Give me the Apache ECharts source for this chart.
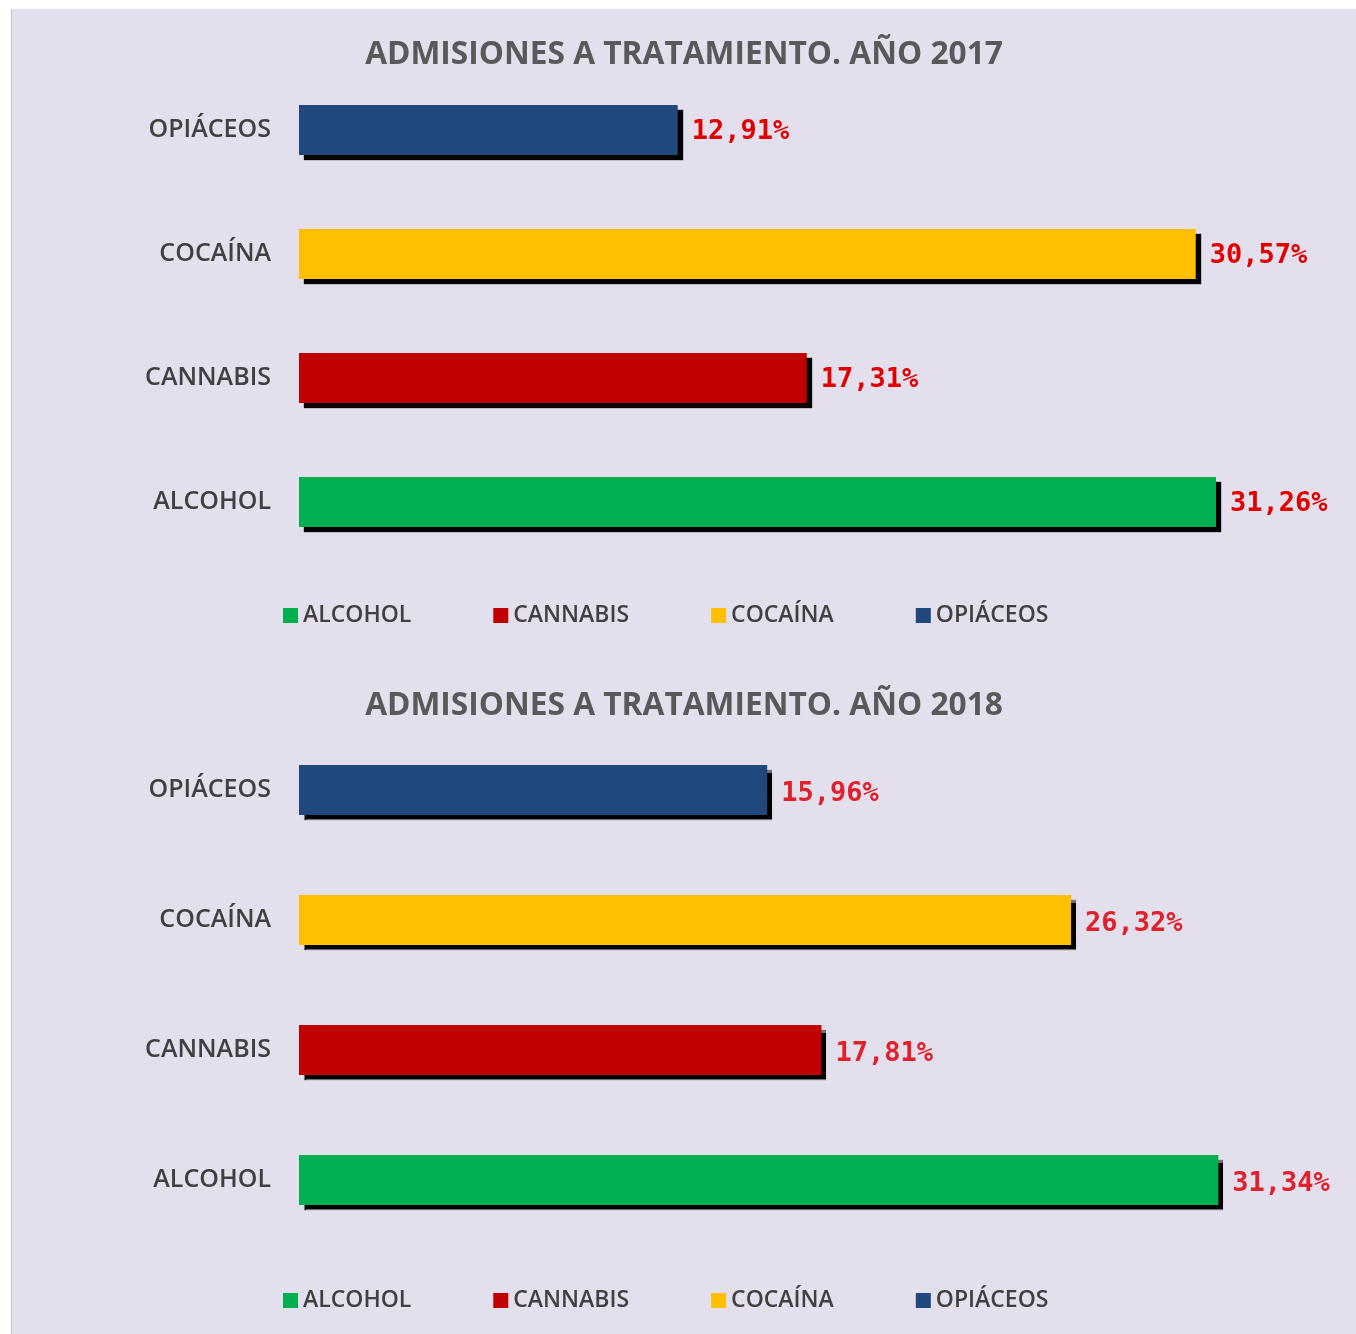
<!DOCTYPE html>
<html>
<head>
<meta charset="utf-8">
<script src="https://cdn.jsdelivr.net/npm/echarts@6/dist/echarts.min.js"></script>
<style>
  html, body { margin: 0; padding: 0; background: #fff; }
  .panel { position: absolute; left: 11px; width: 1345px; background: #E4DFEC; border-left: 1px solid #c4c4c4; box-sizing: border-box; }
  #top { top: 9px; height: 651px; }
  #bottom { top: 660px; height: 674px; }
</style>
</head>
<body>
<div id="top" class="panel"></div>
<div id="bottom" class="panel"></div>
<script>
var categories = ['ALCOHOL', 'CANNABIS', 'COCAÍNA', 'OPIÁCEOS'];
var colors = ['#00B050', '#C00000', '#FFC000', '#1F497D'];
var values2017 = [31.26, 17.31, 30.57, 12.91];
var values2018 = [31.34, 17.81, 26.32, 15.96];

function makeSeries(values, labelColor, labelShift) {
    var series = [];
    for (var i = 0; i < categories.length; i++) {
        var data = [];
        for (var j = 0; j < categories.length; j++) {
            data.push(i === j ? values[j] : '-');
        }
        series.push({
            name: categories[i],
            type: 'bar',
            stack: 'all',
            barWidth: 50,
            data: data,
            itemStyle: {
                color: colors[i],
                shadowColor: 'rgba(0,0,0,1)',
                shadowOffsetX: 5,
                shadowOffsetY: 5,
                shadowBlur: 1
            },
            label: {
                show: true,
                position: 'right',
                distance: 14,
                offset: [0, labelShift],
                color: labelColor,
                fontFamily: 'DejaVu Sans Mono',
                fontWeight: 'bold',
                fontSize: 27,
                formatter: function (p) {
                    return p.value.toFixed(2).replace('.', ',') + '%';
                }
            }
        });
    }
    return series;
}

function drawChart(id, title, values, gridTop, gridHeight, legendTop, labelColor, labelShift) {
    var chart = echarts.init(document.getElementById(id));
    var option = {
        animation: false,
        title: {
            text: title,
            left: 'center',
            top: 25,
            textStyle: {
                color: '#595959',
                fontFamily: 'Open Sans',
                fontWeight: 'bold',
                fontSize: 31.7
            }
        },
        legend: {
            data: categories,
            left: 266,
            top: legendTop,
            itemWidth: 15,
            itemHeight: 15,
            itemGap: 82,
            icon: 'rect',
            textStyle: {
                color: '#404040',
                fontFamily: 'Open Sans',
                fontWeight: 600,
                fontSize: 23
            }
        },
        grid: {
            left: 287,
            top: gridTop,
            height: gridHeight,
            width: 1026.7
        },
        xAxis: {
            type: 'value',
            min: 0,
            max: 35,
            show: false
        },
        yAxis: {
            type: 'category',
            data: categories,
            axisLine: { show: false },
            axisTick: { show: false },
            axisLabel: {
                margin: 28,
                color: '#404040',
                fontFamily: 'Open Sans',
                fontWeight: 600,
                fontSize: 25
            }
        },
        series: makeSeries(values, labelColor, labelShift)
    };
    chart.setOption(option);
}

drawChart('top', 'ADMISIONES A TRATAMIENTO. AÑO 2017', values2017, 59, 496, 590, '#E00000', 2);
drawChart('bottom', 'ADMISIONES A TRATAMIENTO. AÑO 2018', values2018, 65, 520, 624, '#E0202A', 4);
</script>
</body>
</html>
